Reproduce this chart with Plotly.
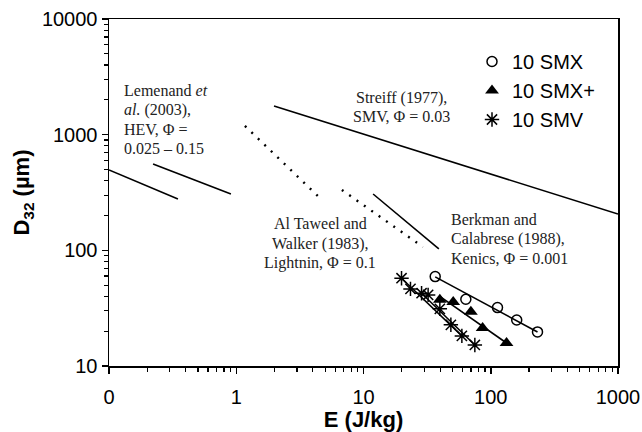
import plotly.graph_objects as go

# ---- data ----
smx_E = [36.6, 63.7, 113, 160, 233]
smx_D = [59.3, 37.8, 32.0, 25.0, 19.7]
smxp_E = [39.8, 50.7, 69.8, 86.3, 133]
smxp_D = [37.3, 35.8, 29.4, 21.3, 15.8]
smv_E = [19.9, 23.4, 28.6, 32.2, 39.8, 48.6, 59.3, 75.0]
smv_D = [57.4, 46.4, 42.6, 41.2, 31.2, 22.7, 18.2, 15.2]

# fit lines
smx_fit_E = [36.6, 233]
smx_fit_D = [59.0, 19.7]
smxp_fit_E = [39.8, 133]
smxp_fit_D = [40.0, 15.8]
smv_fit1_E = [19.9, 59.3]
smv_fit1_D = [57.4, 18.2]
smv_fit2_E = [28.6, 75.0]
smv_fit2_D = [42.6, 15.2]

# literature correlations
lem1_E = [0.1, 0.348]
lem1_D = [495, 278]
lem2_E = [0.222, 0.908]
lem2_D = [558, 307]
streiff_E = [1.98, 1000]
streiff_D = [1770, 206]
taweel1_E = [1.17, 4.63]
taweel1_D = [1190, 278]
taweel2_E = [6.76, 29.3]
taweel2_D = [333, 107]
berkman_E = [11.9, 39.1]
berkman_D = [307, 103]

x_tickvals = [0.1, 1, 10, 100, 1000]
x_ticktext = ["0", "1", "10", "100", "1000"]
y_tickvals = [10, 100, 1000, 10000]
y_ticktext = ["10", "100", "1000", "10000"]
x_minor = [m * d for d in [0.1, 1, 10, 100] for m in range(2, 10)]
y_minor = [m * d for d in [10, 100, 1000] for m in range(2, 10)]

lemenand_text = ["Lemenand <i>et</i>", "<i>al.</i> (2003),", "HEV, Φ =", "0.025 – 0.15"]
streiff_text = ["Streiff (1977),", "SMV, Φ = 0.03"]
taweel_text = ["Al Taweel and", "Walker (1983),", "Lightnin, Φ = 0.1"]
berkman_text = ["Berkman and", "Calabrese (1988),", "Kenics, Φ = 0.001"]

W, H = 642, 432
L, R, T, B = 109, 618, 19, 366

fig = go.Figure()

solid = dict(color="black", width=1.6)
for ex, dy in [(lem1_E, lem1_D), (lem2_E, lem2_D), (streiff_E, streiff_D),
               (berkman_E, berkman_D), (smx_fit_E, smx_fit_D),
               (smxp_fit_E, smxp_fit_D), (smv_fit1_E, smv_fit1_D),
               (smv_fit2_E, smv_fit2_D)]:
    fig.add_trace(go.Scatter(x=ex, y=dy, mode="lines", line=solid,
                             showlegend=False, hoverinfo="skip"))
for ex, dy in [(taweel1_E, taweel1_D), (taweel2_E, taweel2_D)]:
    fig.add_trace(go.Scatter(x=ex, y=dy, mode="lines",
                             line=dict(color="black", width=2.4, dash="2px,7px"),
                             showlegend=False, hoverinfo="skip"))

fig.add_trace(go.Scatter(x=smx_E, y=smx_D, mode="markers", name="10 SMX",
                         marker=dict(symbol="circle-open", size=10, color="black",
                                     line=dict(width=1.5, color="black"))))
fig.add_trace(go.Scatter(x=smxp_E, y=smxp_D, mode="markers", name="10 SMX+",
                         marker=dict(symbol="triangle-up", size=12, color="black")))
fig.add_trace(go.Scatter(x=smv_E, y=smv_D, mode="markers", name="10 SMV",
                         marker=dict(symbol="asterisk-open", size=12, color="black",
                                     line=dict(width=1.5, color="black"))))

serif = dict(family="Liberation Serif, Times New Roman, serif", size=16, color="#222")


def add_block(lines, px, py_list, anchor):
    for txt, py in zip(lines, py_list):
        fig.add_annotation(x=(px - L) / (R - L), y=(B - py) / (B - T),
                           xref="paper", yref="paper", xanchor=anchor, yanchor="middle",
                           text=txt, showarrow=False, font=serif)


add_block(lemenand_text, 122, [90, 110, 129, 148], "left")
add_block(streiff_text, 401, [98, 117], "center")
add_block(taweel_text, 320, [224, 244, 263], "center")
add_block(berkman_text, 449, [220, 239, 258], "left")

sans = "Liberation Sans, Arial, sans-serif"
axis_common = dict(type="log", showline=True, linewidth=1.5, linecolor="black",
                   mirror=True, ticks="outside", ticklen=6, tickwidth=1.5, tickcolor="black",
                   showgrid=False, zeroline=False, automargin=False,
                   tickfont=dict(family=sans, size=20, color="black"))

fig.update_layout(
    width=W, height=H,
    margin=dict(l=L, r=W - R, t=T, b=H - B),
    paper_bgcolor="white", plot_bgcolor="white",
    dragmode=False,
    xaxis=dict(axis_common, range=[-1, 3], tickmode="array",
               tickvals=x_tickvals, ticktext=x_ticktext,
               ticklabelstandoff=6,
               minor=dict(ticks="outside", ticklen=4, tickwidth=1.2, tickcolor="black",
                          tickmode="array", tickvals=x_minor, showgrid=False),
               title=dict(text="<b>E (J/kg)</b>", standoff=4,
                          font=dict(family=sans, size=22, color="black"))),
    yaxis=dict(axis_common, range=[1, 4], tickmode="array",
               tickvals=y_tickvals, ticktext=y_ticktext,
               minor=dict(ticks="outside", ticklen=4, tickwidth=1.2, tickcolor="black",
                          tickmode="array", tickvals=y_minor, showgrid=False),
               title=dict(text="<b>D<sub>32</sub> (µm)</b>", standoff=6,
                          font=dict(family=sans, size=22, color="black"))),
    legend=dict(x=(472 - L) / (R - L), y=(B - 42) / (B - T), xanchor="left", yanchor="top",
                bgcolor="rgba(0,0,0,0)",
                font=dict(family=sans, size=20, color="black"),
                itemwidth=30, tracegroupgap=0),
    showlegend=True,
)

fig.write_html("out.html", config={"staticPlot": True})
